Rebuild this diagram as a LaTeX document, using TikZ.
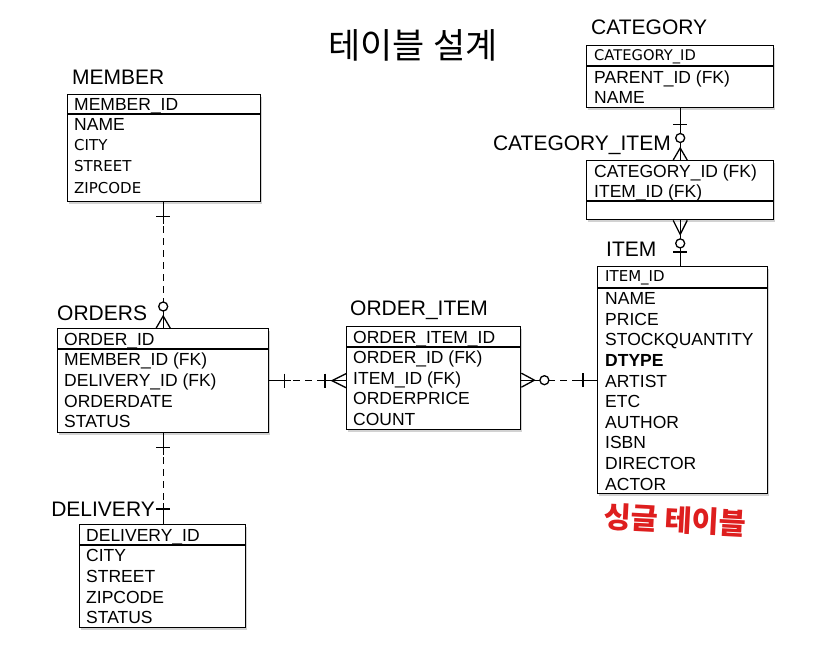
\documentclass[tikz,border=0pt]{standalone}
\usepackage{fontspec}
\setmainfont{Liberation Sans}
\newfontfamily\djfont{DejaVu Sans}
\newfontfamily\krfont{Noto Sans CJK KR}
\usetikzlibrary{shadows,calc}
\definecolor{handred}{RGB}{222,30,30}
\begin{document}
\begin{tikzpicture}[x=1pt,y=-1pt,
  box/.style={draw, line width=1.4pt, fill=white, inner sep=0, anchor=north west,
    drop shadow={shadow xshift=1pt, shadow yshift=-2pt, opacity=0.35}},
  ttl/.style={font=\fontsize{21}{21}\selectfont, anchor=base west, inner sep=0},
  fld/.style={font=\fontsize{17.5}{17.5}\selectfont, anchor=base west, inner sep=0},
  lfld/.style={font=\djfont\fontsize{15}{15}\selectfont, anchor=base west, inner sep=0},
  sep/.style={line width=1.3pt},
  conn/.style={line width=1.3pt},
  dsh/.style={line width=1.3pt, dash pattern=on 7pt off 5pt},
]
\fill[white] (0,0) rectangle (821,658);
\useasboundingbox (0,0) rectangle (821,658);

% title
\node[font=\krfont\fontsize{35}{35}\selectfont, inner sep=0] (title) at (413,45) {테이블 설계};

% ---------- boxes ----------
\node[box, minimum width=193, minimum height=107] (member) at (67,94) {};
\node[box, minimum width=211, minimum height=104] (orders) at (57,328) {};
\node[box, minimum width=166, minimum height=103] (delivery) at (79,524) {};
\node[box, minimum width=174, minimum height=103] (oi) at (346,326) {};
\node[box, minimum width=170, minimum height=227] (item) at (597,266) {};
\node[box, minimum width=187, minimum height=62] (cat) at (586,45) {};
\node[box, minimum width=187, minimum height=59] (ci) at (586,160) {};

% header separators
\draw[sep] (member.west |- 0,114) -- (member.east |- 0,114);
\draw[sep] (orders.west |- 0,349) -- (orders.east |- 0,349);
\draw[sep] (delivery.west |- 0,545) -- (delivery.east |- 0,545);
\draw[sep] (oi.west |- 0,347) -- (oi.east |- 0,347);
\draw[sep] (item.west |- 0,288) -- (item.east |- 0,288);
\draw[sep] (cat.west |- 0,66) -- (cat.east |- 0,66);
\draw[sep] (ci.west |- 0,201) -- (ci.east |- 0,201);

% ---------- titles ----------
\node[ttl] (tmember) at (72,84.5) {MEMBER};
\node[ttl] (torders) at (57,320.5) {ORDERS};
\node[ttl, anchor=base east] (tdelivery) at (155,516.5) {DELIVERY};
\node[ttl] (toi) at (350,315.5) {ORDER\_ITEM};
\node[ttl] (titem) at (606,256.5) {ITEM};
\node[ttl] (tcat) at (591,34.5) {CATEGORY};
\node[ttl, anchor=base east] (tci) at (671,150.5) {CATEGORY\_ITEM};

% ---------- fields ----------
% MEMBER
\node[fld] (m1) at (74,110.3) {MEMBER\_ID};
\node[fld] (m2) at (74,130.3) {NAME};
\node[lfld] (m3) at (74,150.5) {CITY};
\node[lfld] (m4) at (74,171.5) {STREET};
\node[lfld] (m5) at (74,193.5) {ZIPCODE};
% ORDERS
\node[fld] (o1) at (64,345.3) {ORDER\_ID};
\node[fld] (o2) at (64,365.3) {MEMBER\_ID (FK)};
\node[fld] (o3) at (64,386.3) {DELIVERY\_ID (FK)};
\node[fld] (o4) at (64,407.3) {ORDERDATE};
\node[fld] (o5) at (64,427.3) {STATUS};
% DELIVERY
\node[fld] (d1) at (86,541.3) {DELIVERY\_ID};
\node[fld] (d2) at (86,561.3) {CITY};
\node[fld] (d3) at (86,582.3) {STREET};
\node[fld] (d4) at (86,603.3) {ZIPCODE};
\node[fld] (d5) at (86,623.3) {STATUS};
% ORDER_ITEM
\node[fld] (q1) at (353,343.3) {ORDER\_ITEM\_ID};
\node[fld] (q2) at (353,363.3) {ORDER\_ID (FK)};
\node[fld] (q3) at (353,384.3) {ITEM\_ID (FK)};
\node[fld] (q4) at (353,404.3) {ORDERPRICE};
\node[fld] (q5) at (353,425.3) {COUNT};
% ITEM
\node[lfld] (i0) at (605,281.5) {ITEM\_ID};
\node[fld] (i1) at (605,304.3) {NAME};
\node[fld] (i2) at (605,325.3) {PRICE};
\node[fld] (i3) at (605,345.3) {STOCKQUANTITY};
\node[fld, font=\fontsize{17.5}{17.5}\selectfont\bfseries] (i4) at (605,366.3) {DTYPE};
\node[fld] (i5) at (605,387.3) {ARTIST};
\node[fld] (i6) at (605,407.3) {ETC};
\node[fld] (i7) at (605,428.3) {AUTHOR};
\node[fld] (i8) at (605,448.3) {ISBN};
\node[fld] (i9) at (605,469.3) {DIRECTOR};
\node[fld] (i10) at (605,490.3) {ACTOR};
% CATEGORY
\node[lfld, font=\djfont\fontsize{14.7}{14.7}\selectfont] (c1) at (594,60.5) {CATEGORY\_ID};
\node[fld] (c2) at (594,83.3) {PARENT\_ID (FK)};
\node[fld] (c3) at (594,103.3) {NAME};
% CATEGORY_ITEM
\node[fld] (k1) at (594,177.3) {CATEGORY\_ID (FK)};
\node[fld] (k2) at (594,197.3) {ITEM\_ID (FK)};

% ---------- connectors ----------
% MEMBER -- ORDERS
\coordinate (c1a) at (member.south -| orders.north);
\coordinate (c1b) at (orders.north);
\draw[dsh] (c1a) -- (c1b);
\draw[conn] (c1a) -- ($(c1a)+(0,22)$);
\draw[conn] ($(c1a)+(-7,14)$) -- ($(c1a)+(7,14)$);
\draw[conn] ($(c1b)+(0,-17)$) -- (c1b);
\draw[conn] ($(c1b)+(-7,0)$) -- ($(c1b)+(0,-12)$) -- ($(c1b)+(7,0)$);
\draw[conn, fill=white] ($(c1b)+(0,-21.5)$) circle[radius=4.5pt];

% ORDERS -- DELIVERY
\coordinate (c2a) at (orders.south);
\coordinate (c2b) at (delivery.north -| orders.south);
\draw[dsh] (c2a) -- (c2b);
\draw[conn] (c2a) -- ($(c2a)+(0,22)$);
\draw[conn] ($(c2a)+(-7,14)$) -- ($(c2a)+(7,14)$);
\draw[conn] ($(c2b)+(0,-21)$) -- (c2b);
\draw[conn] ($(c2b)+(-7,-15)$) -- ($(c2b)+(7,-15)$);

% ORDERS -- ORDER_ITEM
\coordinate (c3a) at (orders.east);
\coordinate (c3b) at (oi.west |- orders.east);
\draw[dsh] (c3a) -- (c3b);
\draw[conn] (c3a) -- ($(c3a)+(22,0)$);
\draw[conn] ($(c3a)+(15,-7)$) -- ($(c3a)+(15,7)$);
\draw[conn] ($(c3b)+(-26,0)$) -- (c3b);
\draw[conn] ($(c3b)+(-21,-7)$) -- ($(c3b)+(-21,7)$);
\draw[conn] ($(c3b)+(0,-7)$) -- ($(c3b)+(-14,0)$) -- ($(c3b)+(0,7)$);

% ORDER_ITEM -- ITEM
\coordinate (c4a) at (oi.east |- item.west);
\coordinate (c4b) at (item.west);
\draw[dsh] ($(c4a)+(27,0)$) -- (c4b);
\draw[conn] (c4a) -- ($(c4a)+(19,0)$);
\draw[conn] ($(c4a)+(0,-7)$) -- ($(c4a)+(13,0)$) -- ($(c4a)+(0,7)$);
\draw[conn, fill=white] ($(c4a)+(23,0)$) circle[radius=4.5pt];
\draw[conn] ($(c4b)+(-18,0)$) -- (c4b);
\draw[conn] ($(c4b)+(-14,-7)$) -- ($(c4b)+(-14,7)$);

% CATEGORY -- CATEGORY_ITEM
\coordinate (c5a) at (cat.south);
\coordinate (c5b) at (ci.north);
\draw[conn] (c5a) -- (c5b);
\draw[conn] ($(c5a)+(-7,16)$) -- ($(c5a)+(7,16)$);
\draw[conn] ($(c5b)+(-7,0)$) -- ($(c5b)+(0,-12)$) -- ($(c5b)+(7,0)$);
\draw[conn, fill=white] ($(c5b)+(0,-22)$) circle[radius=4.5pt];

% CATEGORY_ITEM -- ITEM
\coordinate (c6a) at (ci.south);
\coordinate (c6b) at (item.north -| ci.south);
\draw[conn] (c6a) -- (c6b);
\draw[conn] ($(c6a)+(-7,0)$) -- ($(c6a)+(0,14)$) -- ($(c6a)+(7,0)$);
\draw[conn, fill=white] ($(c6a)+(0,23)$) circle[radius=4.5pt];
\draw[conn] ($(c6b)+(-7,-14)$) -- ($(c6b)+(7,-14)$);

% handwritten note
\node[font=\krfont\bfseries\fontsize{29.5}{29.5}\selectfont, text=handred, rotate=-3, inner sep=0] (note) at (675,520) {싱글 테이블};
\end{tikzpicture}
\end{document}
